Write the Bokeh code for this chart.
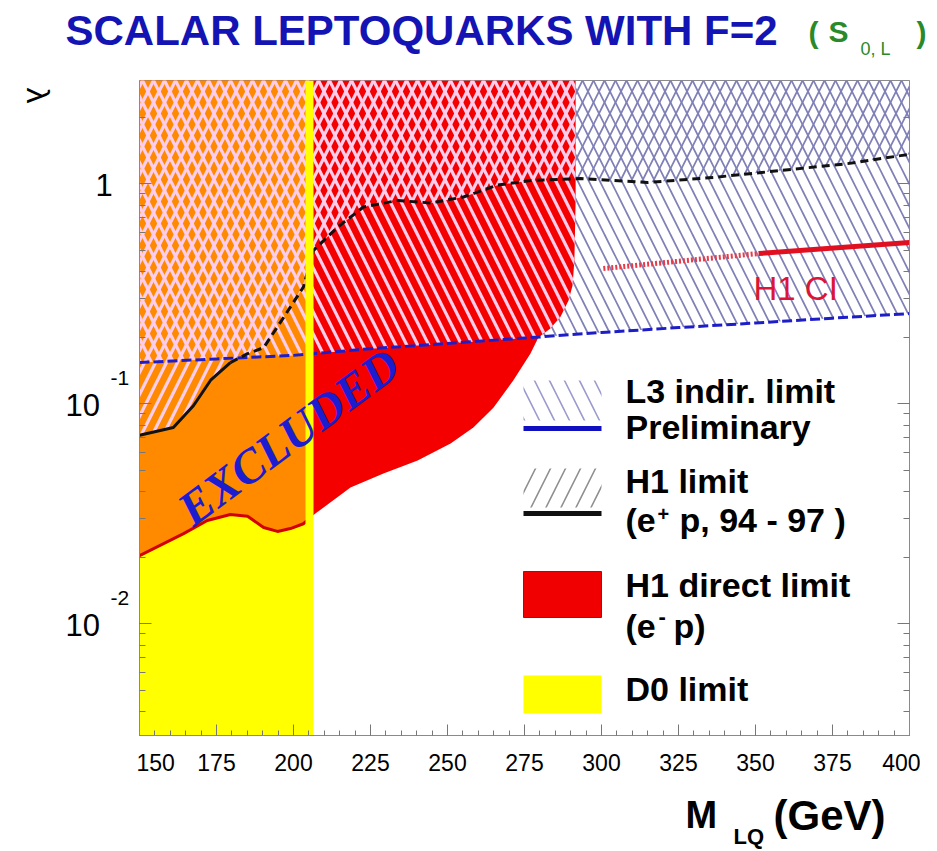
import math
import numpy as np
from bokeh.plotting import figure
from bokeh.layouts import column, row
from bokeh.models import (Label, LogAxis, SingleIntervalTicker, LogTicker,
                          CustomJSTickFormatter, Range1d)
from bokeh.embed import file_html
from bokeh.resources import INLINE

# ---------------- data ----------------
mass_ticks = [150, 175, 200, 225, 250, 275, 300, 325, 350, 375, 400]
lambda_tick_values = [1.0, 0.1, 0.01]
lambda_tick_base = ["1", "10", "10"]
lambda_tick_exp = ["", "-1", "-2"]

# L3 indirect limit (preliminary), blue line
l3_mass = [150, 175, 200, 225, 250, 275, 300, 325, 350, 375, 400]
l3_lambda = [0.154, 0.160, 0.166, 0.178, 0.188, 0.199, 0.211, 0.222, 0.233, 0.245, 0.257]

# H1 limit (e+ p, 94-97), black line
h1_mass = [150.0, 161.0, 167.5, 173.1, 179.5, 185.1, 190.3, 196.8, 203.2, 206.5, 214.3,
           222.7, 233.8, 244.5, 255.2, 266.2, 276.9, 293.2, 314.9, 336.4, 358.1, 379.9,
           397.1, 400.0]
h1_lambda = [0.072, 0.078, 0.098, 0.128, 0.154, 0.169, 0.180, 0.247, 0.339, 0.498, 0.635,
             0.784, 0.840, 0.818, 0.871, 0.986, 1.035, 1.057, 1.014, 1.069, 1.149, 1.235,
             1.343, 1.360]
h1_solid_upto = 179.5   # solid part of the H1 curve, dashed beyond

# H1 direct limit (e- p): lower edge of the excluded region
h1dir_mass = [150.0, 164.3, 172.0, 179.5, 185.1, 190.3, 194.8, 199.0, 203.2, 207.1, 218.5,
              229.2, 240.3, 251.0, 258.4, 264.9, 271.4, 276.9, 279.5]
h1dir_lambda = [0.0204, 0.0257, 0.0295, 0.0314, 0.0308, 0.0274, 0.0263, 0.0271, 0.0285,
                0.0317, 0.0416, 0.0482, 0.0552, 0.0660, 0.0780, 0.0960, 0.128, 0.169, 0.200]
# H1 direct limit: high-mass edge of the region
h1dir_edge_mass = [279.5, 283.4, 286.7, 289.3, 290.6, 291.2, 291.6]
h1dir_edge_lambda = [0.200, 0.220, 0.249, 0.295, 0.345, 0.449, 0.840]

# D0 limit (mass)
d0_mass_limit = 205.2

# H1 contact-interaction line
ci_mass = [300.6, 351.0, 400.0]
ci_lambda = [0.412, 0.482, 0.541]

# ---------------- layout (page pixels) ----------------
X_MIN, X_MAX = 150, 400
Y_MIN, Y_MAX = 0.003107, 2.948
FRAME_L, FRAME_R, FRAME_T, FRAME_B = 139, 909, 80, 735
TOP_H = 80            # title strip height
LEFT_W = 136          # left label strip width
MAIN_W = 920 - LEFT_W
MAIN_H = 703
BOT_H = 851 - TOP_H - MAIN_H
LT, LB = math.log10(Y_MAX), math.log10(Y_MIN)
BASE_SHIFT = 0.36     # alphabetic-baseline correction (fraction of font size)


def gx(xp):
    return X_MIN + (xp - FRAME_L) * (X_MAX - X_MIN) / (FRAME_R - FRAME_L)


def gy(yp):
    return 10 ** (LT - (yp - FRAME_T) * (LT - LB) / (FRAME_B - FRAME_T))


def py(lam):
    return FRAME_T + (LT - math.log10(lam)) * (FRAME_B - FRAME_T) / (LT - LB)


def ilog(xq, xs, ys):
    return float(10 ** np.interp(xq, xs, np.log10(ys)))


def aux_fig(w, h):
    f = figure(width=w, height=h, x_range=Range1d(0, w), y_range=Range1d(0, h),
               output_backend="svg", toolbar_location=None, min_border=0,
               x_axis_location=None, y_axis_location=None)
    f.outline_line_color = None
    f.grid.visible = False
    f.background_fill_color = "white"
    f.border_fill_color = "white"
    return f


def txt(fig, org, xp, yp, s, size, color="black", style="bold", font="Liberation Sans",
        align="left", baseline="alphabetic", angle=0.0):
    # org = (page x of frame left, page y of frame bottom); screen units
    if baseline == "alphabetic":
        yp = yp - BASE_SHIFT * size
    fig.add_layout(Label(x=xp - org[0], y=org[1] - yp, x_units="screen",
                         y_units="screen", text=s, text_font=font,
                         text_font_size=f"{size}px", text_font_style=style,
                         text_color=color, text_align=align, text_baseline=baseline,
                         angle=angle))


# ---------------- main plot ----------------
p = figure(width=MAIN_W, height=MAIN_H, x_range=Range1d(X_MIN, X_MAX),
           y_range=Range1d(Y_MIN, Y_MAX), y_axis_type="log",
           output_backend="svg", toolbar_location=None,
           min_border_left=FRAME_L - LEFT_W, min_border_right=LEFT_W + MAIN_W - FRAME_R,
           min_border_top=0, min_border_bottom=MAIN_H - (FRAME_B - FRAME_T))
p.grid.visible = False
p.background_fill_color = "white"
p.border_fill_color = "white"
p.outline_line_color = "#8a8a8a"
p.outline_line_width = 1
MAIN_ORG = (FRAME_L, FRAME_B)

GREY_HATCH = "#8080b8"
LIGHT_HATCH = "#ffcdec"
HS = 22

# hatch over white areas (whole L3 / H1 regions)
l3_px = l3_mass + [X_MAX, X_MIN]
l3_py = l3_lambda + [Y_MAX, Y_MAX]
h1_px = h1_mass + [X_MAX, X_MIN]
h1_py = h1_lambda + [Y_MAX, Y_MAX]
p.patch(l3_px, l3_py, fill_alpha=0, line_color=None, hatch_pattern="\\",
        hatch_color=GREY_HATCH, hatch_scale=HS, hatch_weight=1.7)
p.patch(h1_px, h1_py, fill_alpha=0, line_color=None, hatch_pattern="/",
        hatch_color=GREY_HATCH, hatch_scale=HS, hatch_weight=1.7)

# D0 excluded (yellow)
p.patch([X_MIN, d0_mass_limit, d0_mass_limit, X_MIN], [Y_MIN, Y_MIN, Y_MAX, Y_MAX],
        fill_color="#ffff00", line_color=None)

# H1 direct excluded (red)
red_x = h1dir_mass + h1dir_edge_mass[1:] + [h1dir_edge_mass[-1], X_MIN]
red_y = h1dir_lambda + h1dir_edge_lambda[1:] + [Y_MAX, Y_MAX]
p.patch(red_x, red_y, fill_color="#f40000", line_color=None)

# overlap D0 & H1 direct (orange)
or_x = [m for m in h1dir_mass if m < d0_mass_limit]
or_y = [l for m, l in zip(h1dir_mass, h1dir_lambda) if m < d0_mass_limit]
or_x = or_x + [d0_mass_limit, d0_mass_limit, X_MIN]
or_y = or_y + [ilog(d0_mass_limit, h1dir_mass, h1dir_lambda), Y_MAX, Y_MAX]
p.patch(or_x, or_y, fill_color="#ff8a00", line_color=None)

# hatch over coloured areas (light)
mc = h1dir_edge_mass[0]
cl3_x = [m for m in l3_mass if m < mc] + [mc] + h1dir_edge_mass[1:] + [h1dir_edge_mass[-1], X_MIN]
cl3_y = ([l for m, l in zip(l3_mass, l3_lambda) if m < mc] + [ilog(mc, l3_mass, l3_lambda)]
         + h1dir_edge_lambda[1:] + [Y_MAX, Y_MAX])
p.patch(cl3_x, cl3_y, fill_alpha=0, line_color=None, hatch_pattern="\\",
        hatch_color=LIGHT_HATCH, hatch_scale=HS, hatch_weight=3.2)
me = h1dir_edge_mass[-1]
ch1_x = [m for m in h1_mass if m < me] + [me, me, X_MIN]
ch1_y = ([l for m, l in zip(h1_mass, h1_lambda) if m < me]
         + [ilog(me, h1_mass, h1_lambda), Y_MAX, Y_MAX])
p.patch(ch1_x, ch1_y, fill_alpha=0, line_color=None, hatch_pattern="/",
        hatch_color=LIGHT_HATCH, hatch_scale=HS, hatch_weight=3.2)

# curves
wav_x = [m for m in h1dir_mass if m <= d0_mass_limit] + [d0_mass_limit]
wav_y = [l for m, l in zip(h1dir_mass, h1dir_lambda) if m <= d0_mass_limit] + \
        [ilog(d0_mass_limit, h1dir_mass, h1dir_lambda)]
p.line(wav_x, wav_y, line_color="#d40000", line_width=3)

p.line(l3_mass, l3_lambda, line_color="#1e1ec8", line_width=3, line_dash="10 4")

sx = [m for m in h1_mass if m <= h1_solid_upto]
sy = [l for m, l in zip(h1_mass, h1_lambda) if m <= h1_solid_upto]
dx = [m for m in h1_mass if m >= h1_solid_upto]
dy = [l for m, l in zip(h1_mass, h1_lambda) if m >= h1_solid_upto]
p.line(sx, sy, line_color="#111111", line_width=3)
p.line(dx, dy, line_color="#111111", line_width=3, line_dash="8 5")

p.line(ci_mass[:2], ci_lambda[:2], line_color="#e83a48", line_width=5, line_dash="2 2")
p.line(ci_mass[1:], ci_lambda[1:], line_color="#e01020", line_width=5)

# D0 limit line
p.segment(x0=[d0_mass_limit], y0=[Y_MIN], x1=[d0_mass_limit], y1=[Y_MAX],
          line_color="#ffff00", line_width=8)

# legend
LX0, LX1 = 523, 601
p.quad(left=gx(LX0), right=gx(LX1), top=gy(380), bottom=gy(420), fill_alpha=0,
       line_color=None, hatch_pattern="\\", hatch_color="#9a9ad0", hatch_scale=30,
       hatch_weight=1.6)
p.line([gx(LX0), gx(LX1)], [gy(428), gy(428)], line_color="#1010c0", line_width=5)
p.quad(left=gx(LX0), right=gx(LX1), top=gy(468), bottom=gy(507), fill_alpha=0,
       line_color=None, hatch_pattern="/", hatch_color="#8e8e8e", hatch_scale=30,
       hatch_weight=1.6)
p.line([gx(LX0), gx(LX1)], [gy(513), gy(513)], line_color="#111111", line_width=5)
p.quad(left=gx(LX0), right=gx(LX1), top=gy(571), bottom=gy(617), fill_color="#f00000",
       line_color="#c80000", line_width=1)
p.quad(left=gx(LX0), right=gx(LX1), top=gy(675), bottom=gy(713), fill_color="#ffff00",
       line_color=None)

LT_X = 625
txt(p, MAIN_ORG, LT_X, 403, "L3 indir. limit", 34)
txt(p, MAIN_ORG, LT_X, 439, "Preliminary", 34)
txt(p, MAIN_ORG, LT_X, 493, "H1 limit", 34)
txt(p, MAIN_ORG, LT_X, 532, "(e", 34)
txt(p, MAIN_ORG, 657, 521, "+", 20)
txt(p, MAIN_ORG, 679, 532, "p, 94 - 97 )", 34)
txt(p, MAIN_ORG, LT_X, 597, "H1 direct limit", 34)
txt(p, MAIN_ORG, LT_X, 638, "(e", 34)
txt(p, MAIN_ORG, 658, 624, "-", 22)
txt(p, MAIN_ORG, 673, 638, "p)", 34)
txt(p, MAIN_ORG, LT_X, 701, "D0 limit", 34)

txt(p, MAIN_ORG, 753, 300, "H1 CI", 33, color="#dc1437", style="normal")
txt(p, MAIN_ORG, 288, 436, "EXCLUDED", 48, color="#1c1cd0", style="bold italic",
    font="Liberation Serif", align="center", baseline="middle",
    angle=math.radians(36.5))

# axes
p.xaxis.ticker = SingleIntervalTicker(interval=25, num_minor_ticks=5)
p.xaxis.major_label_overrides = {m: str(m) for m in mass_ticks}
for ax in p.xaxis:
    ax.major_tick_in = 11
    ax.major_tick_out = 0
    ax.minor_tick_in = 5
    ax.minor_tick_out = 0
    ax.axis_line_color = "#8a8a8a"
    ax.major_tick_line_color = "#777777"
    ax.minor_tick_line_color = "#777777"
    ax.major_label_text_font = "Liberation Sans"
    ax.major_label_text_font_size = "23px"
    ax.major_label_text_color = "black"
    ax.major_label_standoff = 18

ylog_ticker = LogTicker(mantissas=[1], num_minor_ticks=10)
empty_fmt = CustomJSTickFormatter(code="return ''")
for ax in p.yaxis:
    ax.ticker = ylog_ticker
    ax.formatter = empty_fmt
right_ax = LogAxis(ticker=ylog_ticker, formatter=empty_fmt)
p.add_layout(right_ax, "right")
for ax in list(p.yaxis) + [right_ax]:
    ax.major_tick_in = 12
    ax.major_tick_out = 0
    ax.minor_tick_in = 6
    ax.minor_tick_out = 0
    ax.major_label_standoff = 0
    ax.axis_line_color = "#8a8a8a"
    ax.major_tick_line_color = "#777777"
    ax.minor_tick_line_color = "#777777"
    ax.major_label_text_font_size = "1px"

# ---------------- title strip ----------------
top = aux_fig(937, TOP_H)
TOP_ORG = (0, TOP_H)
txt(top, TOP_ORG, 65, 45, "SCALAR LEPTOQUARKS WITH F=2", 42, color="#1414b4")
GREEN = "#2a8a2a"
txt(top, TOP_ORG, 808, 43, "(", 30, color=GREEN)
txt(top, TOP_ORG, 828, 42, "S", 30, color=GREEN)
txt(top, TOP_ORG, 860, 55, "0, L", 18, color=GREEN, style="normal")
txt(top, TOP_ORG, 916, 43, ")", 30, color=GREEN)

# ---------------- left strip (y labels); its frame is aligned with the main frame ----
left = aux_fig(LEFT_W, MAIN_H)
LEFT_ORG = (0, FRAME_B)
for lam, base, ex in zip(lambda_tick_values, lambda_tick_base, lambda_tick_exp):
    yb = py(lam) + 12
    if ex:
        txt(left, LEFT_ORG, 65, yb, base, 31, style="normal")
        txt(left, LEFT_ORG, 110, yb - 30, ex, 21, style="normal")
    else:
        txt(left, LEFT_ORG, 95, yb, base, 31, style="normal")
txt(left, LEFT_ORG, 37, 95, "λ", 32, style="normal", align="center", baseline="middle",
    angle=-math.pi / 2)

# ---------------- bottom strip (x title) ----------------
bot = aux_fig(920, BOT_H)
BOT_ORG = (0, 851)
txt(bot, BOT_ORG, 685, 828, "M", 38)
txt(bot, BOT_ORG, 733, 844, "LQ", 22)
txt(bot, BOT_ORG, 773, 830, "(GeV)", 42)

layout = column(top, row(left, p), bot)
open("out.html", "w").write(file_html(layout, INLINE))
